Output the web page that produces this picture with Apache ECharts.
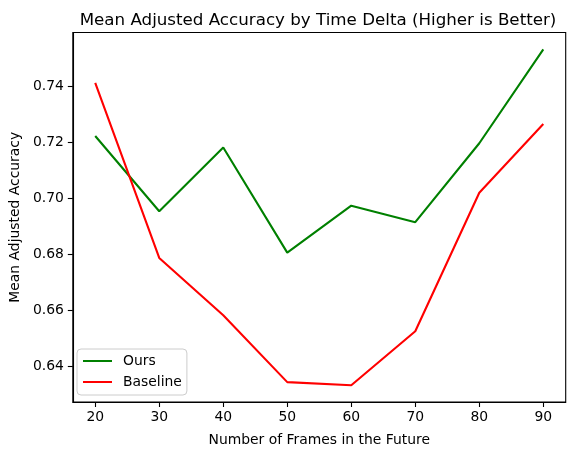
<!DOCTYPE html>
<html>
<head>
<meta charset="utf-8">
<script src="https://cdn.jsdelivr.net/npm/echarts@6/dist/echarts.min.js"></script>
<style>html,body{margin:0;padding:0;background:#fff}#c{width:576px;height:455px}</style>
</head>
<body>
<div id="c"></div>
<script>
var frames = [20, 30, 40, 50, 60, 70, 80, 90];
var ours = [0.7222, 0.6953, 0.7181, 0.6805, 0.6973, 0.6914, 0.7196, 0.7532];
var baseline = [0.7412, 0.6786, 0.6581, 0.6342, 0.6331, 0.6524, 0.7019, 0.7265];
var xTicks = [20, 30, 40, 50, 60, 70, 80, 90];
var yTicks = [0.64, 0.66, 0.68, 0.70, 0.72, 0.74];

var allY = ours.concat(baseline);
var yLo = Math.min.apply(null, allY), yHi = Math.max.apply(null, allY);
var yPad = (yHi - yLo) * 0.05;
var xPad = (frames[frames.length - 1] - frames[0]) * 0.05;

function pairs(xs, ys) { return xs.map(function (x, i) { return [x, ys[i]]; }); }

var FONT = 'DejaVu Sans';
var chart = echarts.init(document.getElementById('c'), null, {renderer: 'canvas'});
chart.setOption({
  animation: false,
  backgroundColor: '#fff',
  title: {
    text: 'Mean Adjusted Accuracy by Time Delta (Higher is Better)',
    left: 313, top: 7, textAlign: 'center',
    textStyle: {fontFamily: FONT, fontSize: 16.7, fontWeight: 'normal', color: '#000'}
  },
  grid: {left: 70, right: 10.3, top: 32.5, bottom: 53, show: true, borderColor: '#000', borderWidth: 1.1, backgroundColor: 'transparent'},
  legend: {
    orient: 'vertical', left: 77, top: 349,
    padding: [5, 5, 6, 5], itemGap: 7, itemWidth: 29, itemHeight: 14,
    borderColor: '#cccccc', borderWidth: 1, borderRadius: 4, backgroundColor: 'rgba(255,255,255,0.8)',
    itemStyle: {opacity: 0},
    textStyle: {fontFamily: FONT, fontSize: 13.9, color: '#000', padding: [0, 0, 0, 6]},
    data: ['Ours', 'Baseline']
  },
  xAxis: {
    type: 'value', min: frames[0] - xPad, max: frames[frames.length - 1] + xPad,
    name: 'Number of Frames in the Future', nameLocation: 'middle', nameGap: 31,
    nameTextStyle: {fontFamily: FONT, fontSize: 13.9, color: '#000'},
    axisLine: {show: true, onZero: false, lineStyle: {color: '#000', width: 1.1}},
    axisTick: {show: true, length: 5, customValues: xTicks, lineStyle: {color: '#000', width: 1.1}},
    axisLabel: {customValues: xTicks, margin: 8, fontFamily: FONT, fontSize: 13.9, color: '#000'},
    splitLine: {show: false}
  },
  yAxis: {
    type: 'value', min: yLo - yPad, max: yHi + yPad,
    name: 'Mean Adjusted Accuracy', nameLocation: 'middle', nameGap: 47,
    nameTextStyle: {fontFamily: FONT, fontSize: 13.9, color: '#000'},
    axisLine: {show: true, onZero: false, lineStyle: {color: '#000', width: 1.1}},
    axisTick: {show: true, length: 5, customValues: yTicks, lineStyle: {color: '#000', width: 1.1}},
    axisLabel: {customValues: yTicks, margin: 9, fontFamily: FONT, fontSize: 13.9, color: '#000',
      formatter: function (v) { return v.toFixed(2); }},
    splitLine: {show: false}
  },
  series: [
    {name: 'Ours', type: 'line', data: pairs(frames, ours), symbol: 'none', color: '#008000',
      lineStyle: {color: '#008000', width: 2.1}},
    {name: 'Baseline', type: 'line', data: pairs(frames, baseline), symbol: 'none', color: '#ff0000',
      lineStyle: {color: '#ff0000', width: 2.1}}
  ]
});
</script>
</body>
</html>
